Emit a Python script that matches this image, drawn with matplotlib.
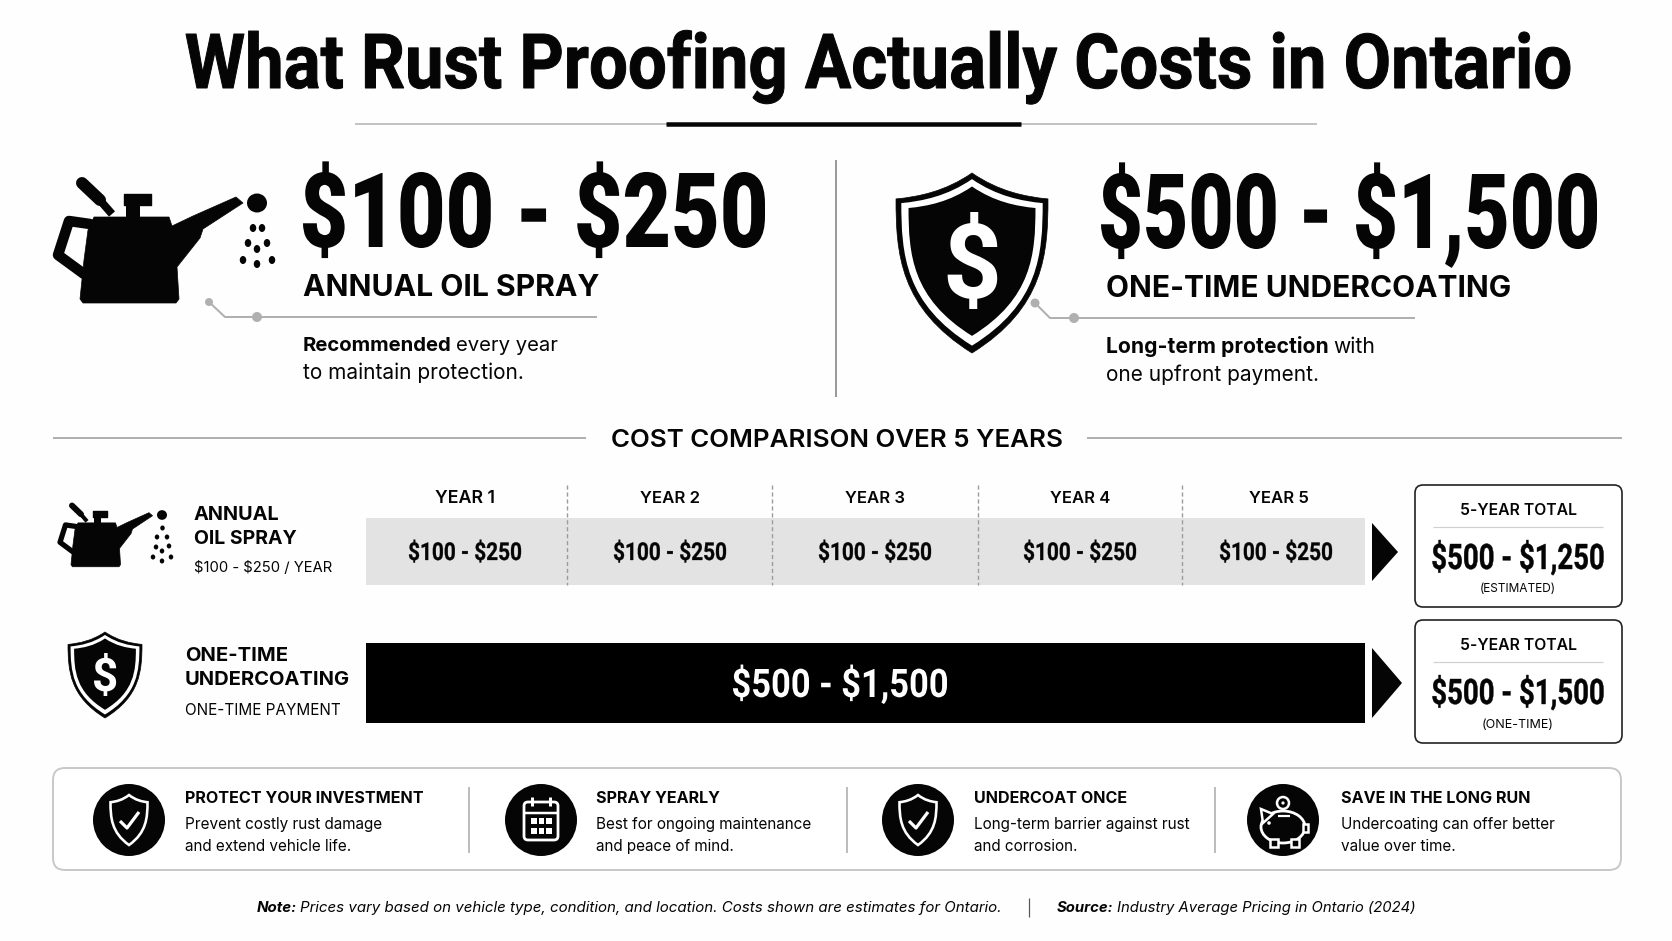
import matplotlib
matplotlib.use("Agg")
import matplotlib.pyplot as plt
from matplotlib.font_manager import FontProperties
from matplotlib.patches import Circle, Ellipse, FancyBboxPatch, PathPatch, Polygon, Rectangle
from matplotlib.path import Path
from matplotlib.text import Text
from matplotlib.textpath import TextPath
from matplotlib.transforms import Affine2D, Bbox, IdentityTransform

# ---- content -------------------------------------------------------------
title = "What Rust Proofing Actually Costs in Ontario"
oil_name = "ANNUAL OIL SPRAY"
coat_name = "ONE-TIME UNDERCOATING"
oil_range = [100, 250]
coat_range = [500, 1500]
oil_total = [500, 1250]
coat_total = [500, 1500]
years = ["YEAR 1", "YEAR 2", "YEAR 3", "YEAR 4", "YEAR 5"]
year_edges = [366, 567, 772, 978, 1182, 1365]
year_centers = [465, 670, 875, 1080, 1279]
seg_centers = [465, 670, 875, 1080, 1276]
bottom_heads = ["PROTECT YOUR INVESTMENT", "SPRAY YEARLY", "UNDERCOAT ONCE", "SAVE IN THE LONG RUN"]
bottom_l1 = ["Prevent costly rust damage", "Best for ongoing maintenance", "Long-term barrier against rust", "Undercoating can offer better"]
bottom_l2 = ["and extend vehicle life.", "and peace of mind.", "and corrosion.", "value over time."]

ROBOTO = ["Roboto", "DejaVu Sans"]
BODY = ["Inter", "Roboto", "DejaVu Sans"]
BLACK = "#050505"
GRAY = "#b0b0b0"

fig = plt.figure(figsize=(16.72, 9.41), dpi=100, facecolor="#fefefe")
ax = fig.add_axes([0, 0, 1, 1])
ax.set_xlim(0, 1672)
ax.set_ylim(941, 0)
ax.axis("off")
rend = fig.canvas.get_renderer()


def rng(v):
    return f"\\${v[0]:,} - \\${v[1]:,}"


class CondensedText(Text):
    """A real text artist drawn with a horizontal squeeze, for the narrow display face."""

    def set_fit(self, cap_px, width_px, bold_px=0.0):
        self._size_px = cap_px / 0.711
        self._width_px = width_px
        self._bold_px = bold_px
        fp = self.get_fontproperties()
        natural = TextPath((0, 0), self.get_text(), prop=fp, size=self._size_px).get_extents().width
        # nominal size is the one whose natural width equals the squeezed width
        self.set_fontsize(self._size_px * 0.72 * width_px / natural)

    def _outline(self):
        fp = self.get_fontproperties()
        tp = TextPath((0, 0), self.get_text(), prop=fp, size=self._size_px)
        ext = tp.get_extents()
        sx = self._width_px / ext.width
        px, py = self.get_transform().transform(self.get_position())
        off = {"left": 0, "center": -self._width_px / 2}[self.get_ha()]
        tr = Affine2D().translate(-ext.x0, 0).scale(sx, 1).translate(px + off, py)
        return tp.transformed(tr)

    def get_window_extent(self, renderer=None, dpi=None):
        e = self._outline().get_extents()
        return Bbox([[e.x0, e.y0], [e.x1, e.y1]])

    def draw(self, renderer):
        if not self.get_visible():
            return
        gc = renderer.new_gc()
        gc.set_foreground(self.get_color())
        gc.set_linewidth(self._bold_px * 72 / 100)
        gc.set_joinstyle("round")
        rgb = matplotlib.colors.to_rgb(self.get_color())
        renderer.draw_path(gc, self._outline(), IdentityTransform(), rgb)
        gc.restore()


def C(x, y, s, cap, width, ha="left", color=BLACK, bold=0.0, weight="black"):
    t = CondensedText(x, y, s, color=color, ha=ha, va="baseline", transform=ax.transData,
                      fontproperties=FontProperties(family=ROBOTO, weight=weight))
    t.set_fit(cap, width, bold)
    ax.add_artist(t)
    return t


def T(x, y, s, size, weight="normal", fam=BODY, ha="left", color=BLACK, style="normal", fit=None):
    t = ax.text(x, y, s, fontsize=size, fontweight=weight, family=fam, ha=ha, va="baseline",
                color=color, style=style)
    if fit:
        w = t.get_window_extent(rend).width
        t.set_fontsize(size * fit / w)
    return t


def runs(x, y, parts, size, gap=0.3):
    for s, w, st in parts:
        t = T(x, y, s, size, weight=w, style=st)
        x += t.get_window_extent(rend).width + size * gap
    return x


def L(xs, ys, lw=1.5, c=GRAY, **k):
    ax.plot(xs, ys, color=c, lw=lw * 0.72, solid_capstyle=k.pop("cap", "butt"), **k)


# ---- icons ---------------------------------------------------------------
LARGE_DROPS = [(253, 228), (262, 228), (248, 243), (267, 243), (257, 249), (243, 260), (272, 260), (257, 264)]
SMALL_DROPS = [(162.5, 528), (157, 537), (167, 537), (156, 547), (169, 546), (162, 551), (153, 557), (171, 557), (162, 561)]


def oil_can(ox, oy, sx, sy, big_drop, drops, drop_w, drop_h):
    f = lambda p: [(ox + (a - 54) * sx, oy + (b - 178) * sy) for a, b in p]
    body = [(94, 217), (169, 217), (172, 226), (193, 216), (236, 197), (243, 203), (203, 229), (200, 238),
            (177, 267), (179, 299), (176, 303), (83, 303), (80, 299), (84, 260), (88, 230)]
    ax.add_patch(Polygon(f(body), fc=BLACK, ec=BLACK, lw=0.5, joinstyle="round"))
    h = f([(90, 224), (69, 221), (58, 255), (84, 274)])
    ax.plot(*zip(*h), color=BLACK, lw=10.5 * 0.72 * sx, solid_joinstyle="round", solid_capstyle="round")
    ax.add_patch(Polygon(f([(126, 205), (140, 205), (140, 218), (126, 218)]), fc=BLACK, ec="none"))
    ax.add_patch(Polygon(f([(124, 194), (151, 194), (151, 205), (124, 205)]), fc=BLACK, ec=BLACK, lw=1, joinstyle="round"))
    p = f([(82, 183), (100, 200)])
    ax.plot(*zip(*p), color=BLACK, lw=12 * 0.72 * sx, solid_capstyle="round")
    p = f([(98, 198), (112, 214)])
    ax.plot(*zip(*p), color=BLACK, lw=8 * 0.72 * sx, solid_capstyle="butt")
    ax.add_patch(Ellipse(big_drop, 20 * sx, 19 * sy, fc=BLACK, ec="none"))
    for d in drops:
        ax.add_patch(Ellipse(d, drop_w, drop_h, fc=BLACK, ec="none"))


def shield_path(cx, top, hw, h, dip=0.12):
    V = [(cx, top),
         (cx + hw * 0.35, top + h * dip * 0.85), (cx + hw * 0.7, top + h * dip * 1.1), (cx + hw, top + h * dip * 1.2),
         (cx + hw * 1.0, top + h * 0.45), (cx + hw * 0.95, top + h * 0.75), (cx, top + h),
         (cx - hw * 0.95, top + h * 0.75), (cx - hw * 1.0, top + h * 0.45), (cx - hw, top + h * dip * 1.2),
         (cx - hw * 0.7, top + h * dip * 1.1), (cx - hw * 0.35, top + h * dip * 0.85), (cx, top), (cx, top)]
    K = [Path.MOVETO] + [Path.CURVE4] * 12 + [Path.CLOSEPOLY]
    return Path(V, K)


def money_shield(cx, top, hw, h, dollar):
    ax.add_patch(PathPatch(shield_path(cx, top, hw, h), fc=BLACK, ec=BLACK, lw=0.5))
    ax.add_patch(PathPatch(shield_path(cx, top + h * 0.034, hw * 0.93, h * 0.925), fc="white", ec="none"))
    ax.add_patch(PathPatch(shield_path(cx, top + h * 0.075, hw * 0.835, h * 0.83), fc=BLACK, ec="none"))
    ax.text(cx, top + h * 0.48, "\\$", fontsize=dollar, color="white", fontweight="bold", family=ROBOTO,
            ha="center", va="center_baseline")


def outline_shield(cx, cy, lw=2.6):
    ax.add_patch(PathPatch(shield_path(cx, cy - 25, 18.5, 50), fc="none", ec="white", lw=lw * 0.72))
    L([cx - 9, cx - 2, cx + 10], [cy + 1, cy + 8, cy - 8], lw=lw + 0.6, c="white")


def calendar(cx, cy):
    ax.add_patch(FancyBboxPatch((cx - 17, cy - 18), 34, 38, boxstyle="round,pad=0,rounding_size=4", fc="none", ec="white", lw=2))
    L([cx - 17, cx + 17], [cy - 7, cy - 7], lw=2.5, c="white")
    for dx in (-9, 9):
        L([cx + dx, cx + dx], [cy - 23, cy - 14], lw=3, c="white")
    for r in (0, 10):
        for c in (-10, -2.5, 5):
            ax.add_patch(Rectangle((cx + c, cy - 2 + r), 5.5, 6, fc="white", ec="none"))


def piggy(cx, cy):
    ax.add_patch(Ellipse((cx, cy + 5), 44, 32, fc=BLACK, ec="white", lw=2))
    for dx in (-13, 8):
        ax.add_patch(Rectangle((cx + dx, cy + 17), 8, 8, fc=BLACK, ec="white", lw=1.8))
    ax.add_patch(Polygon([(cx - 22, cy - 13), (cx - 10, cy - 8), (cx - 20, cy + 1)], fc=BLACK, ec="white", lw=1.8))
    ax.add_patch(Rectangle((cx + 20, cy + 2), 5, 8, fc=BLACK, ec="white", lw=1.8))
    L([cx - 5, cx + 7], [cy - 6, cy - 6], lw=2.2, c="white")
    ax.add_patch(Circle((cx - 14, cy + 1), 1.8, fc="white", ec="none"))
    ax.add_patch(Circle((cx, cy - 19), 6, fc=BLACK, ec="white", lw=1.8))
    ax.add_patch(Circle((cx, cy - 19), 1.6, fc="white", ec="none"))


# ---- header --------------------------------------------------------------
C(186, 88, title, 54, 1384, weight="bold", bold=1.0)
L([355, 1317], [124, 124], lw=1.5)
L([666, 1021], [124, 124], lw=4.5, c=BLACK)
L([836, 836], [160, 397], lw=2, c="#9a9a9a")

# ---- headline panels -----------------------------------------------------
oil_can(54, 178, 1, 1, (257, 203), LARGE_DROPS, 6.5, 8)
C(303, 247, rng(oil_range), 74, 462)
T(303, 296, oil_name, 21, "bold", fit=296)
L([209, 225, 597], [302, 317, 317], lw=2)
ax.add_patch(Circle((209, 302), 4, fc=GRAY, ec="none"))
ax.add_patch(Circle((257, 317), 5, fc=GRAY, ec="none"))
runs(303, 351, [("Recommended", "bold", "normal"), ("every year", "normal", "normal")], 14.6)
T(303, 379, "to maintain protection.", 15)

money_shield(972, 173, 76, 180, 74)
C(1101, 248, rng(coat_range), 74, 496)
T(1106, 297, coat_name, 21, "bold", fit=405)
L([1035, 1050, 1415], [303, 318, 318], lw=2)
ax.add_patch(Circle((1035, 303), 4.5, fc=GRAY, ec="none"))
ax.add_patch(Circle((1074, 318), 5, fc=GRAY, ec="none"))
runs(1106, 353, [("Long-term protection", "bold", "normal"), ("with", "normal", "normal")], 15.2)
T(1106, 381, "one upfront payment.", 15)

# ---- comparison ----------------------------------------------------------
T(837, 447, "COST COMPARISON OVER 5 YEARS", 18.5, "semibold", ha="center", fit=452)
L([53, 586], [438, 438], lw=2)
L([1087, 1622], [438, 438], lw=2)

oil_can(58, 503, 0.5, 0.51, (162, 515), SMALL_DROPS, 4.5, 5)
T(194, 520, "ANNUAL", 14.5, "bold", fit=86)
T(194, 544, "OIL SPRAY", 14.5, "bold", fit=103)
T(194, 572, f"\\${oil_range[0]} - \\${oil_range[1]} / YEAR", 11.5, fit=139)
money_shield(105, 632, 37, 86, 33)
T(185, 661, "ONE-TIME", 14.5, "bold", fit=103)
T(185, 685, "UNDERCOATING", 14.5, "bold", fit=165)
T(185, 715, "ONE-TIME PAYMENT", 11.5, fit=155)

for i, yr in enumerate(years):
    ax.barh(551.5, year_edges[i + 1] - year_edges[i], left=year_edges[i], height=67, color="#e3e3e3", lw=0)
    T(year_centers[i], 503, yr, 12.5, "semibold", ha="center", fit=60)
    C(seg_centers[i], 560, rng(oil_range), 17.5, 112, ha="center", weight="bold", bold=0.3)
for e in year_edges[1:-1]:
    ax.plot([e, e], [485, 585], color="#9c9c9c", lw=1, ls=(0, (3, 2)))
ax.barh(683, year_edges[-1] - year_edges[0], left=year_edges[0], height=80, color="black", lw=0)
C(840, 697, rng(coat_range), 28, 214, ha="center", color="white", weight="bold")
ax.add_patch(Polygon([(1372, 523), (1398, 552), (1372, 581)], fc=BLACK, ec="none"))
ax.add_patch(Polygon([(1372, 648), (1402, 683), (1372, 718)], fc=BLACK, ec="none"))

for top, bot, val, note, rule, ty, vy, ny in [
    (485, 607, oil_total, "(ESTIMATED)", 527, 515, 569, 592),
    (620, 743, coat_total, "(ONE-TIME)", 662, 650, 704, 728),
]:
    ax.add_patch(FancyBboxPatch((1415, top), 207, bot - top, boxstyle="round,pad=0,rounding_size=8", fc="white", ec="#222222", lw=1.2))
    L([1433, 1603], [rule, rule], lw=1.2, c="#d0d0d0")
    T(1518, ty, "5-YEAR TOTAL", 12.5, "semibold", ha="center", fit=117)
    C(1518, vy, rng(val), 25, 171, ha="center", weight="bold", bold=0.4)
    T(1518, ny, note, 9, ha="center", fit=77 if "EST" in note else 72)

# ---- bottom strip --------------------------------------------------------
ax.add_patch(FancyBboxPatch((53, 768), 1568, 102, boxstyle="round,pad=0,rounding_size=12", fc="white", ec="#c8c8c8", lw=1.4))
for d in (469, 847, 1215):
    L([d, d], [787, 853], lw=1.5, c="#a8a8a8")
circle_x = [129, 541, 918, 1283]
text_x = [185, 596, 974, 1341]
for cx, tx, h, a, b in zip(circle_x, text_x, bottom_heads, bottom_l1, bottom_l2):
    ax.add_patch(Circle((cx, 820), 36, fc=BLACK, ec="none"))
    T(tx, 803, h, 11.6, "bold")
    T(tx, 829, a, 11.0)
    T(tx, 851, b, 11.0)
outline_shield(129, 820)
calendar(541, 820)
outline_shield(918, 820)
piggy(1283, 822)

# ---- footer --------------------------------------------------------------
runs(257, 912, [("Note:", "bold", "italic"),
                ("Prices vary based on vehicle type, condition, and location. Costs shown are estimates for Ontario.", "normal", "italic")], 10.85)
L([1029, 1029], [898, 917], lw=1.2, c="#555555")
runs(1057, 912, [("Source:", "bold", "italic"), ("Industry Average Pricing in Ontario (2024)", "normal", "italic")], 10.7)

fig.savefig("out.png", dpi=100, facecolor=fig.get_facecolor())
